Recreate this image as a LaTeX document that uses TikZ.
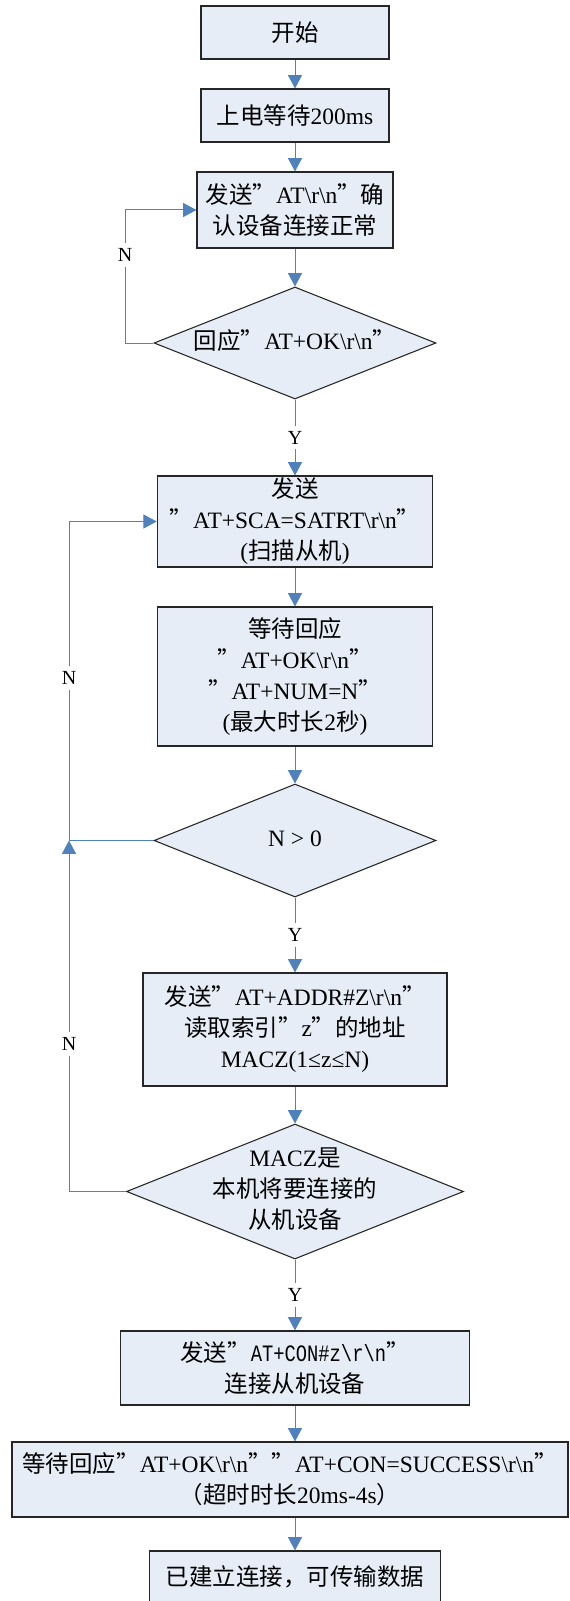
\documentclass[tikz,border=0pt]{standalone}
\usepackage{fontspec}
\usepackage{graphicx}
\setmainfont{Liberation Serif}
\setmonofont{Liberation Mono}
\newfontfamily\cjk{Noto Sans CJK SC}
\usetikzlibrary{shapes.geometric,arrows.meta}

\definecolor{flowblue}{RGB}{79,129,189}
\definecolor{boxfill}{RGB}{230,237,247}
\newcommand{\zh}[1]{{\cjk #1}}
\newcommand{\bs}{\textbackslash}
% text of a diamond takes no room, the diamond keeps its own size
\newcommand{\dtext}[1]{\makebox[0pt]{\smash{\raisebox{-0.25em}{\begin{tabular}{@{}c@{}}#1\end{tabular}}}}}

\begin{document}
\begin{tikzpicture}[x=0.75pt, y=-0.75pt,
  every node/.style={font=\fontsize{17.6pt}{23.25pt}\selectfont},
  box/.style={draw=black!85, line width=0.8pt, fill=boxfill, inner sep=0pt, align=center},
  decision/.style={box, diamond},
  flow/.style={draw=flowblue, line width=0.75pt, -{Triangle[width=10.5pt,length=10pt]}},
  yesno/.style={fill=white, font=\fontsize{15pt}{18pt}\selectfont, inner xsep=2pt, inner ysep=4pt}]
\useasboundingbox (0,0) rectangle (569,1601);

\node[box, minimum width=141pt, minimum height=39.75pt] (start) at (295,32.5) {\zh{开始}};
\node[box, minimum width=141pt, minimum height=39.75pt] (wait) at (295,115.5) {\zh{上电等待}200ms};
\node[box, minimum width=147pt, minimum height=57pt] (sendat) at (295,210)
  {\zh{发送”}AT\bs r\bs n\zh{”确}\\\zh{认设备连接正常}};
\node[decision, minimum width=211.5pt, minimum height=84pt] (chkok) at (295,343)
  {\dtext{\zh{回应”}AT+OK\bs r\bs n\zh{”}}};
\node[box, minimum width=206.6pt, minimum height=68.25pt] (scan) at (295,521.5)
  {\zh{发送}\\\zh{”}AT+SCA=SATRT\bs r\bs n\zh{”}\\(\zh{扫描从机})};
\node[box, minimum width=206.6pt, minimum height=104.25pt] (waitnum) at (295,676.5)
  {\zh{等待回应}\\\zh{”}AT+OK\bs r\bs n\zh{”}\\\zh{”}AT+NUM=N\zh{”}\\(\zh{最大时长}2\zh{秒})};
\node[decision, minimum width=211.5pt, minimum height=84.75pt] (chkn) at (295,840.5) {\dtext{N > 0}};
\node[box, minimum width=228pt, minimum height=84.75pt] (addr) at (295,1029.5)
  {\zh{发送”}AT+ADDR\#Z\bs r\bs n\zh{”}\\\zh{读取索引”}z\zh{”的地址}\\MACZ(1≤z≤N)};
\node[decision, minimum width=252.75pt, minimum height=101.25pt] (chkmac) at (295,1191.5)
  {\dtext{MACZ\zh{是}\\\zh{本机将要连接的}\\\zh{从机设备}}};
\node[box, minimum width=261.4pt, minimum height=55.5pt] (con) at (295,1368)
  {\zh{发送”}{\ttfamily\scalebox{0.8}[1]{AT+CON\#z\bs r\bs n}}\zh{”}\\\zh{连接从机设备}};
\node[box, minimum width=417pt, minimum height=56.25pt] (waitcon) at (290,1479.5)
  {\zh{等待回应”}AT+OK\bs r\bs n\zh{””}AT+CON=SUCCESS\bs r\bs n\zh{”}\\\zh{（超时时长}20ms-4s\zh{）}};
\node[box, minimum width=218.25pt, minimum height=39pt] (done) at (295,1577) {\zh{已建立连接，可传输数据}};

\coordinate (loopa) at (125,343);
\coordinate (loopb) at (69,840.5);

\foreach \a/\b in {start/wait, wait/sendat, sendat/chkok, scan/waitnum, waitnum/chkn, addr/chkmac}
  \draw[flow] (\a) -- (\b);
\draw[flow] (chkok) -- node[yesno] (y1) {Y} (scan);
\draw[flow] (chkn) -- node[yesno] (y2) {Y} (addr);
\draw[flow] (chkmac) -- node[yesno] (y3) {Y} (con);
\draw[flow] (con) -- (con.south |- waitcon.north);
\draw[flow] (done.north |- waitcon.south) -- (done);

% the N ways back
\draw[flow] (chkok.west) -- (loopa) |- node[yesno, pos=0.33] (n1) {N} (sendat.west);
\draw[flow] (chkn.west) -- (loopb) |- node[yesno, pos=0.255] (n2) {N} (scan.west);
\draw[flow] (chkmac.west) -| node[yesno, pos=0.71] (n3) {N} (loopb);
\end{tikzpicture}
\end{document}
